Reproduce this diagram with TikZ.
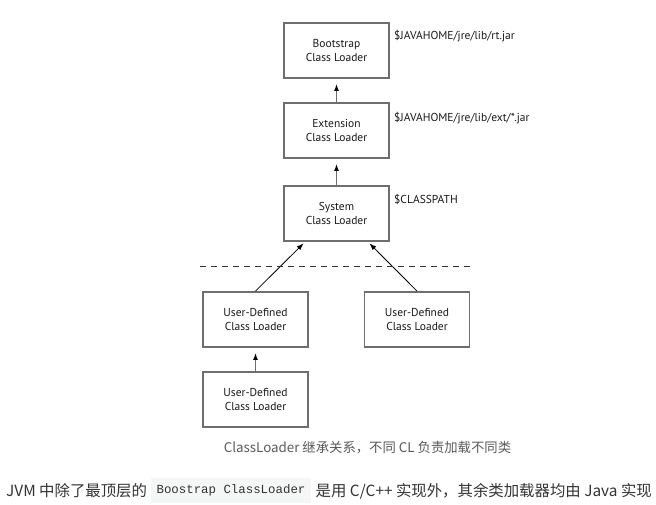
\documentclass[tikz,border=0pt]{standalone}
\usepackage{fontspec}
\usetikzlibrary{arrows.meta,calc}
\newfontfamily\diagfont{PT Sans}
\newfontfamily\cjkfont{Noto Sans CJK SC}
\newfontfamily\monofont{Liberation Mono}
\definecolor{boxgray}{RGB}{110,110,110}
\definecolor{capgray}{RGB}{90,90,90}
\definecolor{txtgray}{RGB}{51,51,51}
\definecolor{codebg}{RGB}{245,247,247}
\begin{document}
\begin{tikzpicture}[x=1pt,y=-1pt,
  loader/.style={draw=boxgray,line width=1.8pt,minimum width=105pt,minimum height=55pt,
    align=center,inner sep=0pt,text=black!90,font=\diagfont\fontsize{11.5}{14}\selectfont},
  pathlbl/.style={anchor=west,inner sep=0pt,text=black!90,font=\diagfont\fontsize{11.5}{14}\selectfont},
  uparrow/.style={draw=boxgray,line width=1.8pt,-{Latex[black,length=7pt,width=5pt]},shorten >=5pt},
  diagarrow/.style={draw=black,line width=0.8pt,-{Latex[black,length=7pt,width=5pt]},shorten >=2pt},
  sep/.style={draw=black!80,line width=0.8pt,dash pattern=on 6pt off 5pt}
]
\useasboundingbox[fill=white] (0,0) rectangle (656,505);

\node[loader] (boot) at (336.5,50.5) {Bootstrap\\Class Loader};
\node[loader] (ext)  at (336.5,130.5) {Extension\\Class Loader};
\node[loader] (sys)  at (336.5,213.5) {System\\Class Loader};
\node[loader] (ud1)  at (255.5,319.5) {User-Defined\\Class Loader};
\node[loader] (ud2)  at (417,319.5) {User-Defined\\Class Loader};
\node[loader] (ud3)  at (255.5,399.5) {User-Defined\\Class Loader};

\node[pathlbl] (lb1) at (394,36) {\$JAVAHOME/jre/lib/rt.jar};
\node[pathlbl] (lb2) at (394,118.5) {\$JAVAHOME/jre/lib/ext/*.jar};
\node[pathlbl] (lb3) at (394,199) {\$CLASSPATH};

\draw[uparrow] (ext.north) -- (boot.south);
\draw[uparrow] (sys.north) -- (ext.south);
\draw[uparrow] (ud3.north) -- (ud1.south);
\draw[diagarrow] (ud1.north) -- ([xshift=-31.5pt]sys.south);
\draw[diagarrow] (ud2.north) -- ([xshift=31.5pt]sys.south);

\coordinate (dl) at (200,266);
\coordinate (dr) at (473,266);
\draw[sep] (dl) -- (dr);

\node[inner sep=0pt,text=capgray,font=\cjkfont\fontsize{13.35}{15}\selectfont] (cap) at (367.5,448) {ClassLoader 继承关系，不同 CL 负责加载不同类};

\node[anchor=west,inner sep=0pt,text=txtgray,font=\cjkfont\fontsize{15.4}{18}\selectfont] (t1) at (6,491) {JVM 中除了最顶层的};
\node[fill=codebg,minimum width=160pt,minimum height=25pt,inner sep=0pt,text=txtgray,font=\monofont\fontsize{12.4}{15}\selectfont] (code) at (231,490.5) {Boostrap ClassLoader};
\node[anchor=east,inner sep=0pt,text=txtgray,font=\cjkfont\fontsize{15.4}{18}\selectfont] (t2) at (652,491) {是用 C/C++ 实现外，其余类加载器均由 Java 实现};
\end{tikzpicture}
\end{document}
